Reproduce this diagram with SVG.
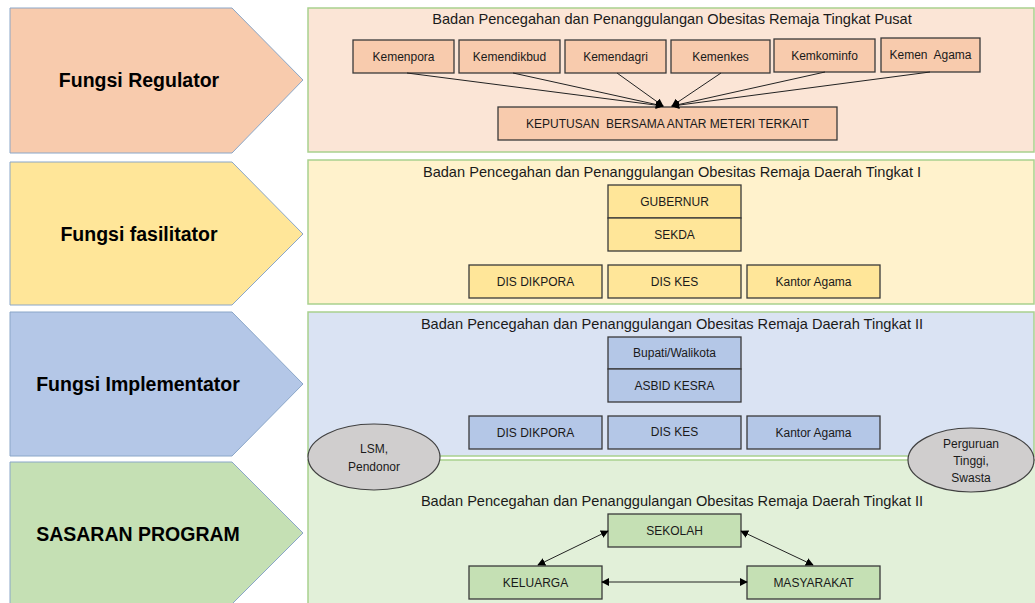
<svg xmlns="http://www.w3.org/2000/svg" width="1035" height="603" viewBox="0 0 1035 603">
<defs>
<style>
.arrow{stroke:#8aa6c8;stroke-width:1}
.panel{stroke:#a9d18e;stroke-width:1.5}
.box{stroke:#3a3a3a;stroke-width:1.3}
.ell{fill:#d0cece;stroke:#404040;stroke-width:1.2}
.ft{font-family:"Liberation Sans",Arial,sans-serif;font-weight:bold;font-size:19.5px;fill:#000;text-anchor:middle}
.tt{font-family:"Liberation Sans",Arial,sans-serif;font-size:14.6px;fill:#1a1a1a;text-anchor:middle}
.bt{font-family:"Liberation Sans",Arial,sans-serif;font-size:12px;fill:#1a1a1a;text-anchor:middle}
.con{stroke:#222;stroke-width:1;fill:none}
.r1{fill:#f8cbad}.p1{fill:#fbe5d6}
.r2{fill:#ffe699}.p2{fill:#fff2cc}
.r3{fill:#b4c7e7}.p3{fill:#dae3f3}
.r4{fill:#c5e0b4}.p4{fill:#e2f0d9}
</style>
<marker id="ah" viewBox="0 0 10 10" refX="9" refY="5" markerWidth="8" markerHeight="8" markerUnits="userSpaceOnUse" orient="auto-start-reverse">
<path d="M0,0 L10,5 L0,10 Z" fill="#000"/>
</marker>
</defs>

<g id="arrow-regulator">
<path class="arrow r1" d="M10,8 L232,8 L303,80 L232,153 L10,153 Z"/>
<text class="ft" x="139" y="87">Fungsi Regulator</text>
</g>
<g id="arrow-fasilitator">
<path class="arrow r2" d="M10,162 L232,162 L303,234 L232,305 L10,305 Z"/>
<text class="ft" x="139" y="241">Fungsi fasilitator</text>
</g>
<g id="arrow-implementator">
<path class="arrow r3" d="M10,312 L232,312 L303,384 L232,456 L10,456 Z"/>
<text class="ft" x="138" y="391">Fungsi Implementator</text>
</g>
<g id="arrow-sasaran">
<path class="arrow r4" d="M10,462 L232,462 L303,533 L232,604 L10,604 Z"/>
<text class="ft" x="138" y="541">SASARAN PROGRAM</text>
</g>

<g id="panel-pusat">
<rect class="panel p1" x="308" y="8" width="726" height="144"/>
<text class="tt" x="672" y="24">Badan Pencegahan dan Penanggulangan Obesitas Remaja Tingkat Pusat</text>
</g>
<g id="panel-daerah1">
<rect class="panel p2" x="308" y="160" width="726" height="144"/>
<text class="tt" x="672" y="177">Badan Pencegahan dan Penanggulangan Obesitas Remaja Daerah Tingkat I</text>
</g>
<g id="panel-daerah2">
<rect class="panel p3" x="308" y="312" width="726" height="144"/>
<text class="tt" x="672" y="329">Badan Pencegahan dan Penanggulangan Obesitas Remaja Daerah Tingkat II</text>
</g>
<g id="panel-sasaran">
<rect class="panel p4" x="308" y="460" width="740" height="150"/>
<text class="tt" x="672" y="506">Badan Pencegahan dan Penanggulangan Obesitas Remaja Daerah Tingkat II</text>
</g>

<g id="kemenpora"><rect class="box r1" x="353" y="40" width="101" height="33"/><text class="bt" x="403.5" y="61">Kemenpora</text></g>
<g id="kemendikbud"><rect class="box r1" x="459" y="40" width="101" height="33"/><text class="bt" x="509.5" y="61">Kemendikbud</text></g>
<g id="kemendagri"><rect class="box r1" x="565" y="40" width="101" height="33"/><text class="bt" x="615.5" y="61">Kemendagri</text></g>
<g id="kemenkes"><rect class="box r1" x="671" y="40" width="99" height="33"/><text class="bt" x="720.5" y="61">Kemenkes</text></g>
<g id="kemkominfo"><rect class="box r1" x="774" y="39" width="101" height="33"/><text class="bt" x="824.5" y="60">Kemkominfo</text></g>
<g id="kemen-agama"><rect class="box r1" x="881" y="38" width="99" height="34"/><text class="bt" x="930.5" y="59" xml:space="preserve">Kemen  Agama</text></g>
<g id="keputusan"><rect class="box r1" x="498" y="107" width="339" height="33"/><text class="bt" x="667.5" y="128" xml:space="preserve">KEPUTUSAN  BERSAMA ANTAR METERI TERKAIT</text></g>

<g id="gubernur"><rect class="box r2" x="608" y="185" width="133" height="33"/><text class="bt" x="674.5" y="206">GUBERNUR</text></g>
<g id="sekda"><rect class="box r2" x="608" y="218" width="133" height="33"/><text class="bt" x="674.5" y="239">SEKDA</text></g>
<g id="dis-dikpora-1"><rect class="box r2" x="469" y="265" width="133" height="33"/><text class="bt" x="535.5" y="286">DIS DIKPORA</text></g>
<g id="dis-kes-1"><rect class="box r2" x="608" y="265" width="133" height="33"/><text class="bt" x="674.5" y="286">DIS KES</text></g>
<g id="kantor-agama-1"><rect class="box r2" x="747" y="265" width="133" height="33"/><text class="bt" x="813.5" y="286">Kantor Agama</text></g>

<g id="bupati"><rect class="box r3" x="608" y="337" width="133" height="32"/><text class="bt" x="674.5" y="357">Bupati/Walikota</text></g>
<g id="asbid-kesra"><rect class="box r3" x="608" y="369" width="133" height="33"/><text class="bt" x="674.5" y="390">ASBID KESRA</text></g>
<g id="dis-dikpora-2"><rect class="box r3" x="469" y="416" width="133" height="33"/><text class="bt" x="535.5" y="437">DIS DIKPORA</text></g>
<g id="dis-kes-2"><rect class="box r3" x="608" y="416" width="133" height="33"/><text class="bt" x="674.5" y="436">DIS KES</text></g>
<g id="kantor-agama-2"><rect class="box r3" x="747" y="416" width="133" height="33"/><text class="bt" x="813.5" y="437">Kantor Agama</text></g>

<g id="lsm"><ellipse class="ell" cx="374" cy="457" rx="66" ry="33"/><text class="bt" x="374" y="453">LSM,</text><text class="bt" x="374" y="471">Pendonor</text></g>
<g id="perguruan"><ellipse class="ell" cx="971" cy="460" rx="63" ry="32"/><text class="bt" x="971" y="448">Perguruan</text><text class="bt" x="971" y="465">Tinggi,</text><text class="bt" x="971" y="482">Swasta</text></g>

<g id="sekolah"><rect class="box r4" x="608" y="514" width="133" height="33"/><text class="bt" x="674.5" y="535">SEKOLAH</text></g>
<g id="keluarga"><rect class="box r4" x="469" y="566" width="133" height="33"/><text class="bt" x="535.5" y="587">KELUARGA</text></g>
<g id="masyarakat"><rect class="box r4" x="747" y="566" width="133" height="33"/><text class="bt" x="813.5" y="587">MASYARAKAT</text></g>

<g id="connectors">
<line class="con" x1="407" y1="73" x2="663" y2="106" marker-end="url(#ah)"/>
<line class="con" x1="513" y1="73" x2="663" y2="106" marker-end="url(#ah)"/>
<line class="con" x1="617" y1="73" x2="663" y2="106" marker-end="url(#ah)"/>
<line class="con" x1="721" y1="73" x2="672" y2="106" marker-end="url(#ah)"/>
<line class="con" x1="825" y1="72" x2="672" y2="106" marker-end="url(#ah)"/>
<line class="con" x1="930" y1="72" x2="672" y2="106" marker-end="url(#ah)"/>
<line class="con" x1="608" y1="531" x2="538" y2="565" marker-start="url(#ah)" marker-end="url(#ah)"/>
<line class="con" x1="741" y1="531" x2="813" y2="565" marker-start="url(#ah)" marker-end="url(#ah)"/>
<line class="con" x1="602" y1="582" x2="747" y2="582" marker-start="url(#ah)" marker-end="url(#ah)"/>
</g>
</svg>
